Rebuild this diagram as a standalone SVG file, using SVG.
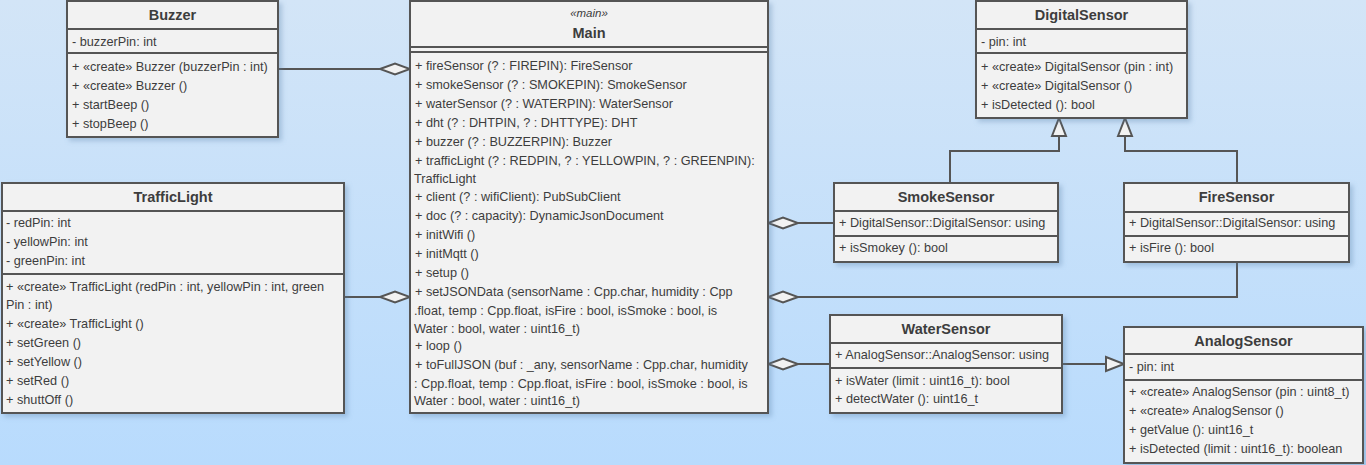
<svg xmlns="http://www.w3.org/2000/svg" width="1366" height="465" viewBox="0 0 1366 465">
<defs>
<linearGradient id="bg" x1="0" y1="0" x2="0" y2="1">
<stop offset="0" stop-color="#d3e5f7"/>
<stop offset="1" stop-color="#b8dbfd"/>
</linearGradient>
<filter id="sh" x="-5%" y="-5%" width="115%" height="115%">
<feDropShadow dx="3" dy="3" stdDeviation="2.5" flood-color="#5a7fa8" flood-opacity="0.35"/>
</filter>
<marker id="dia" viewBox="-2 -2 34 16" markerWidth="34" markerHeight="16" refX="30" refY="6" orient="auto" markerUnits="userSpaceOnUse">
<path d="M0,6 L15,0.5 L30,6 L15,11.5 Z" fill="#f2f2f2" stroke="#555" stroke-width="2"/>
</marker>
<marker id="tri" viewBox="-2 -2 22 18" markerWidth="22" markerHeight="18" refX="18" refY="7" orient="auto" markerUnits="userSpaceOnUse">
<path d="M0,0 L18,7 L0,14 Z" fill="#f2f2f2" stroke="#555" stroke-width="2"/>
</marker>
</defs>
<style>
.box{fill:#f2f2f2;stroke:#555;stroke-width:2;filter:url(#sh)}
.sep{stroke:#555;stroke-width:2}
.t{font-family:"Liberation Sans",Arial,sans-serif;font-size:12.7px;fill:#3d3d3d}
.h{font-family:"Liberation Sans",Arial,sans-serif;font-size:14.5px;font-weight:bold;fill:#3d3d3d;text-anchor:middle}
.st{font-family:"Liberation Sans",Arial,sans-serif;font-size:11.5px;font-style:italic;fill:#3d3d3d;text-anchor:middle}
.c{fill:none;stroke:#555;stroke-width:2}
</style>
<rect width="1366" height="465" fill="url(#bg)"/>

<g id="connectors">
<path class="c" d="M278,69 L410,69" marker-end="url(#dia)"/>
<path class="c" d="M344,297 L410,297" marker-end="url(#dia)"/>
<path class="c" d="M834,223 L768,223" marker-end="url(#dia)"/>
<path class="c" d="M1237,262 L1237,297 L768,297" marker-end="url(#dia)"/>
<path class="c" d="M830,364 L768,364" marker-end="url(#dia)"/>
<path class="c" d="M1062,364 L1124,364" marker-end="url(#tri)"/>
<path class="c" d="M950,183 L950,151 L1059,151 L1059,118" marker-end="url(#tri)"/>
<path class="c" d="M1237,183 L1237,151 L1125,151 L1125,118" marker-end="url(#tri)"/>
</g>

<g id="Buzzer">
<rect class="box" x="67" y="1" width="211" height="136"/>
<line class="sep" x1="67" y1="29" x2="278" y2="29"/>
<line class="sep" x1="67" y1="53" x2="278" y2="53"/>
<text class="h" x="172.5" y="20">Buzzer</text>
<text class="t" x="72" y="46">- buzzerPin: int</text>
<text class="t" x="72" y="71">+ «create» Buzzer (buzzerPin : int)</text>
<text class="t" x="72" y="90">+ «create» Buzzer ()</text>
<text class="t" x="72" y="109">+ startBeep ()</text>
<text class="t" x="72" y="128">+ stopBeep ()</text>
</g>

<g id="Main">
<rect class="box" x="410" y="1" width="358" height="412"/>
<line class="sep" x1="410" y1="47" x2="768" y2="47"/>
<line class="sep" x1="410" y1="52" x2="768" y2="52"/>
<text class="st" x="589" y="17">«main»</text>
<text class="h" x="589" y="38">Main</text>
<text class="t" x="415" y="70">+ fireSensor (? : FIREPIN): FireSensor</text>
<text class="t" x="415" y="89">+ smokeSensor (? : SMOKEPIN): SmokeSensor</text>
<text class="t" x="415" y="108">+ waterSensor (? : WATERPIN): WaterSensor</text>
<text class="t" x="415" y="127">+ dht (? : DHTPIN, ? : DHTTYPE): DHT</text>
<text class="t" x="415" y="146">+ buzzer (? : BUZZERPIN): Buzzer</text>
<text class="t" x="415" y="165">+ trafficLight (? : REDPIN, ? : YELLOWPIN, ? : GREENPIN):</text>
<text class="t" x="414" y="183">TrafficLight</text>
<text class="t" x="415" y="201">+ client (? : wifiClient): PubSubClient</text>
<text class="t" x="415" y="220">+ doc (? : capacity): DynamicJsonDocument</text>
<text class="t" x="415" y="239">+ initWifi ()</text>
<text class="t" x="415" y="258">+ initMqtt ()</text>
<text class="t" x="415" y="277">+ setup ()</text>
<text class="t" x="415" y="296">+ setJSONData (sensorName : Cpp.char, humidity : Cpp</text>
<text class="t" x="414" y="315">.float, temp : Cpp.float, isFire : bool, isSmoke : bool, is</text>
<text class="t" x="414" y="333">Water : bool, water : uint16_t)</text>
<text class="t" x="415" y="350">+ loop ()</text>
<text class="t" x="415" y="369">+ toFullJSON (buf : _any, sensorName : Cpp.char, humidity</text>
<text class="t" x="414" y="388">: Cpp.float, temp : Cpp.float, isFire : bool, isSmoke : bool, is</text>
<text class="t" x="414" y="405">Water : bool, water : uint16_t)</text>
</g>

<g id="TrafficLight">
<rect class="box" x="2" y="183" width="342" height="230"/>
<line class="sep" x1="2" y1="211" x2="344" y2="211"/>
<line class="sep" x1="2" y1="274" x2="344" y2="274"/>
<text class="h" x="173" y="202">TrafficLight</text>
<text class="t" x="6" y="227">- redPin: int</text>
<text class="t" x="6" y="246">- yellowPin: int</text>
<text class="t" x="6" y="265">- greenPin: int</text>
<text class="t" x="6" y="291">+ «create» TrafficLight (redPin : int, yellowPin : int, green</text>
<text class="t" x="6" y="309">Pin : int)</text>
<text class="t" x="6" y="328">+ «create» TrafficLight ()</text>
<text class="t" x="6" y="347">+ setGreen ()</text>
<text class="t" x="6" y="366">+ setYellow ()</text>
<text class="t" x="6" y="385">+ setRed ()</text>
<text class="t" x="6" y="404">+ shuttOff ()</text>
</g>

<g id="DigitalSensor">
<rect class="box" x="976" y="1" width="211" height="117"/>
<line class="sep" x1="976" y1="29" x2="1187" y2="29"/>
<line class="sep" x1="976" y1="53" x2="1187" y2="53"/>
<text class="h" x="1081.5" y="20">DigitalSensor</text>
<text class="t" x="981" y="46">- pin: int</text>
<text class="t" x="981" y="71">+ «create» DigitalSensor (pin : int)</text>
<text class="t" x="981" y="90">+ «create» DigitalSensor ()</text>
<text class="t" x="981" y="109">+ isDetected (): bool</text>
</g>

<g id="SmokeSensor">
<rect class="box" x="834" y="183" width="224" height="79"/>
<line class="sep" x1="834" y1="211" x2="1058" y2="211"/>
<line class="sep" x1="834" y1="236" x2="1058" y2="236"/>
<text class="h" x="946" y="202">SmokeSensor</text>
<text class="t" x="839" y="227">+ DigitalSensor::DigitalSensor: using</text>
<text class="t" x="839" y="252">+ isSmokey (): bool</text>
</g>

<g id="FireSensor">
<rect class="box" x="1124" y="183" width="225" height="79"/>
<line class="sep" x1="1124" y1="212" x2="1349" y2="212"/>
<line class="sep" x1="1124" y1="236" x2="1349" y2="236"/>
<text class="h" x="1236.5" y="202">FireSensor</text>
<text class="t" x="1129" y="227">+ DigitalSensor::DigitalSensor: using</text>
<text class="t" x="1129" y="252">+ isFire (): bool</text>
</g>

<g id="WaterSensor">
<rect class="box" x="830" y="315" width="232" height="98"/>
<line class="sep" x1="830" y1="343" x2="1062" y2="343"/>
<line class="sep" x1="830" y1="368" x2="1062" y2="368"/>
<text class="h" x="946" y="334">WaterSensor</text>
<text class="t" x="835" y="359">+ AnalogSensor::AnalogSensor: using</text>
<text class="t" x="835" y="385">+ isWater (limit : uint16_t): bool</text>
<text class="t" x="835" y="403">+ detectWater (): uint16_t</text>
</g>

<g id="AnalogSensor">
<rect class="box" x="1124" y="327" width="239" height="136"/>
<line class="sep" x1="1124" y1="354" x2="1363" y2="354"/>
<line class="sep" x1="1124" y1="380" x2="1363" y2="380"/>
<text class="h" x="1243.5" y="346">AnalogSensor</text>
<text class="t" x="1129" y="371">- pin: int</text>
<text class="t" x="1129" y="396">+ «create» AnalogSensor (pin : uint8_t)</text>
<text class="t" x="1129" y="415">+ «create» AnalogSensor ()</text>
<text class="t" x="1129" y="434">+ getValue (): uint16_t</text>
<text class="t" x="1129" y="453">+ isDetected (limit : uint16_t): boolean</text>
</g>
</svg>
